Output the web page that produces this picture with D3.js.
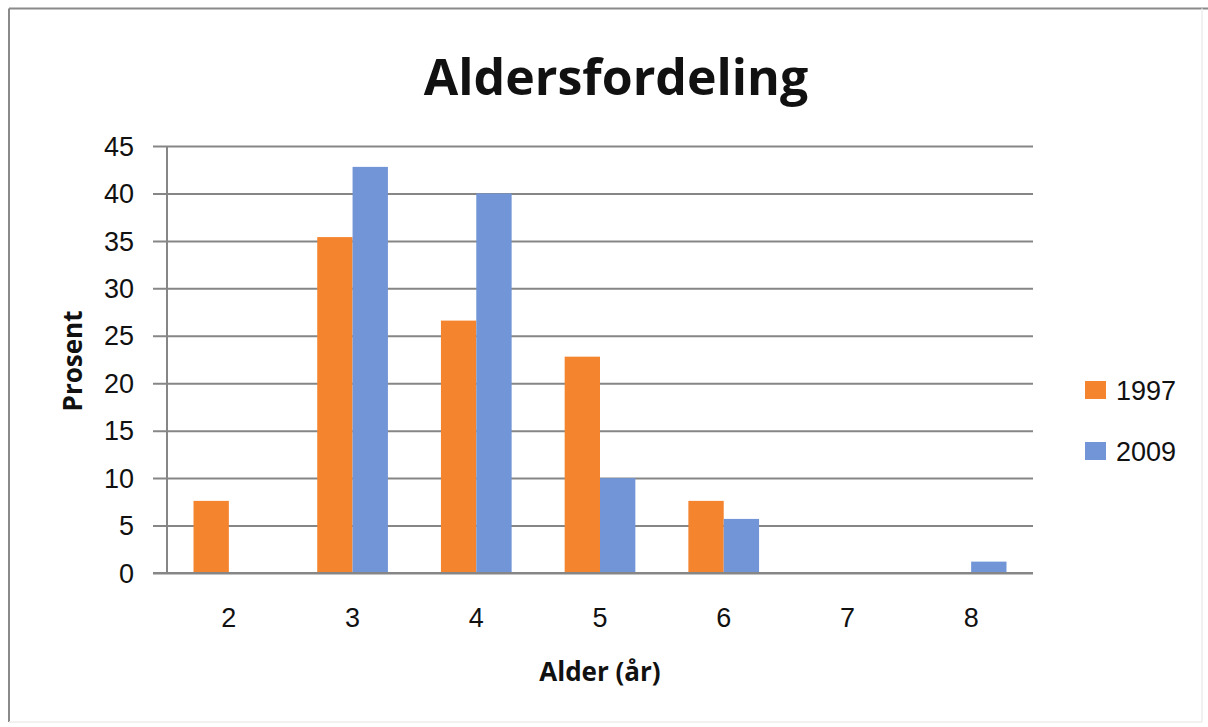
<!DOCTYPE html>
<html>
<head>
<meta charset="utf-8">
<script src="https://cdn.jsdelivr.net/npm/d3@7"></script>
<style>
  html, body { margin: 0; padding: 0; background: #fff; }
  svg { display: block; }
</style>
</head>
<body>
<svg id="chart" width="1208" height="727"></svg>
<script>
// Age distribution, percent of sample per age class
const ages = ["2", "3", "4", "5", "6", "7", "8"];
const seriesNames = ["1997", "2009"];
const values1997 = [7.6, 35.4, 26.6, 22.8, 7.6, 0, 0];
const values2009 = [0, 42.8, 40.0, 10.0, 5.7, 0, 1.2];
const yTicks = [0, 5, 10, 15, 20, 25, 30, 35, 40, 45];
const colors = ["#F5842F", "#7195D6"];

const svg = d3.select("#chart");
const plot = { left: 167, right: 1033, top: 146, bottom: 573 };

// outer chart frame: strong top/left edges, faint right/bottom edges
svg.append("line").attr("x1", 9).attr("x2", 1208).attr("y1", 8.5).attr("y2", 8.5)
  .attr("stroke", "#8a8a8a").attr("stroke-width", 2);
svg.append("line").attr("x1", 9).attr("x2", 9).attr("y1", 8.5).attr("y2", 722)
  .attr("stroke", "#8a8a8a").attr("stroke-width", 2);
svg.append("line").attr("x1", 1202).attr("x2", 1202).attr("y1", 8.5).attr("y2", 722)
  .attr("stroke", "#ececec").attr("stroke-width", 1.5);
svg.append("line").attr("x1", 9).attr("x2", 1202).attr("y1", 722).attr("y2", 722)
  .attr("stroke", "#ececec").attr("stroke-width", 1.5);

// scales
const x0 = d3.scaleBand()
  .domain(ages)
  .range([plot.left, plot.right])
  .paddingInner(3 / 7)
  .paddingOuter(1.5 / 7);

const x1 = d3.scaleBand()
  .domain(seriesNames)
  .range([0, x0.bandwidth()]);

const y = d3.scaleLinear()
  .domain([0, 45])
  .range([plot.bottom, plot.top]);

// horizontal gridlines + left ticks
const yAxis = d3.axisLeft(y)
  .tickValues(yTicks)
  .tickSize(-(plot.right - plot.left))
  .tickPadding(0)
  .tickFormat("");

const gGrid = svg.append("g")
  .attr("transform", `translate(${plot.left},0)`)
  .call(yAxis);
gGrid.select(".domain").remove();
gGrid.selectAll(".tick line")
  .attr("x1", -14)
  .attr("stroke", "#868686")
  .attr("stroke-width", 2);

// y tick labels
svg.append("g").selectAll("text")
  .data(yTicks)
  .join("text")
  .attr("x", 134)
  .attr("y", d => y(d))
  .attr("dy", "0.36em")
  .attr("text-anchor", "end")
  .attr("font-family", "Liberation Sans, Arial, sans-serif")
  .attr("font-size", 27)
  .attr("fill", "#111")
  .text(d => d);

// bars
const rows = ages.map((a, i) => ({ age: a, vals: [values1997[i], values2009[i]] }));
const gCats = svg.append("g").selectAll("g")
  .data(rows)
  .join("g")
  .attr("transform", d => `translate(${x0(d.age)},0)`);

gCats.selectAll("rect")
  .data(d => d.vals.map((v, k) => ({ key: seriesNames[k], v, k })))
  .join("rect")
  .attr("x", d => x1(d.key))
  .attr("y", d => y(d.v))
  .attr("width", x1.bandwidth())
  .attr("height", d => y(0) - y(d.v))
  .attr("fill", d => colors[d.k]);

// axis lines
svg.append("line")
  .attr("x1", plot.left).attr("x2", plot.left)
  .attr("y1", plot.top).attr("y2", plot.bottom)
  .attr("stroke", "#868686").attr("stroke-width", 2);
svg.append("line")
  .attr("x1", plot.left - 14).attr("x2", plot.right)
  .attr("y1", plot.bottom).attr("y2", plot.bottom)
  .attr("stroke", "#868686").attr("stroke-width", 2);

// x category labels
svg.append("g").selectAll("text")
  .data(ages)
  .join("text")
  .attr("x", d => x0(d) + x0.bandwidth() / 2)
  .attr("y", 627)
  .attr("text-anchor", "middle")
  .attr("font-family", "Liberation Sans, Arial, sans-serif")
  .attr("font-size", 27)
  .attr("fill", "#111")
  .text(d => d);

// title
svg.append("text")
  .attr("x", 616).attr("y", 95)
  .attr("text-anchor", "middle")
  .attr("font-family", "Open Sans, sans-serif")
  .attr("font-weight", "bold")
  .attr("font-size", 50)
  .attr("fill", "#111")
  .text("Aldersfordeling");

// axis titles
svg.append("text")
  .attr("x", 600).attr("y", 681)
  .attr("text-anchor", "middle")
  .attr("font-family", "Open Sans, sans-serif")
  .attr("font-weight", "bold")
  .attr("font-size", 26)
  .attr("fill", "#111")
  .text("Alder (år)");

svg.append("text")
  .attr("transform", "translate(82,361) rotate(-90)")
  .attr("text-anchor", "middle")
  .attr("font-family", "Open Sans, sans-serif")
  .attr("font-weight", "bold")
  .attr("font-size", 26)
  .attr("fill", "#111")
  .text("Prosent");

// legend
const legend = svg.append("g").selectAll("g")
  .data(seriesNames)
  .join("g")
  .attr("transform", (d, i) => `translate(1085,${390 + i * 61})`);
legend.append("rect")
  .attr("x", 0).attr("y", -9)
  .attr("width", 21).attr("height", 18)
  .attr("fill", (d, i) => colors[i]);
legend.append("text")
  .attr("x", 31).attr("y", 0)
  .attr("dy", "0.36em")
  .attr("font-family", "Liberation Sans, Arial, sans-serif")
  .attr("font-size", 27)
  .attr("fill", "#111")
  .text(d => d);
</script>
</body>
</html>
